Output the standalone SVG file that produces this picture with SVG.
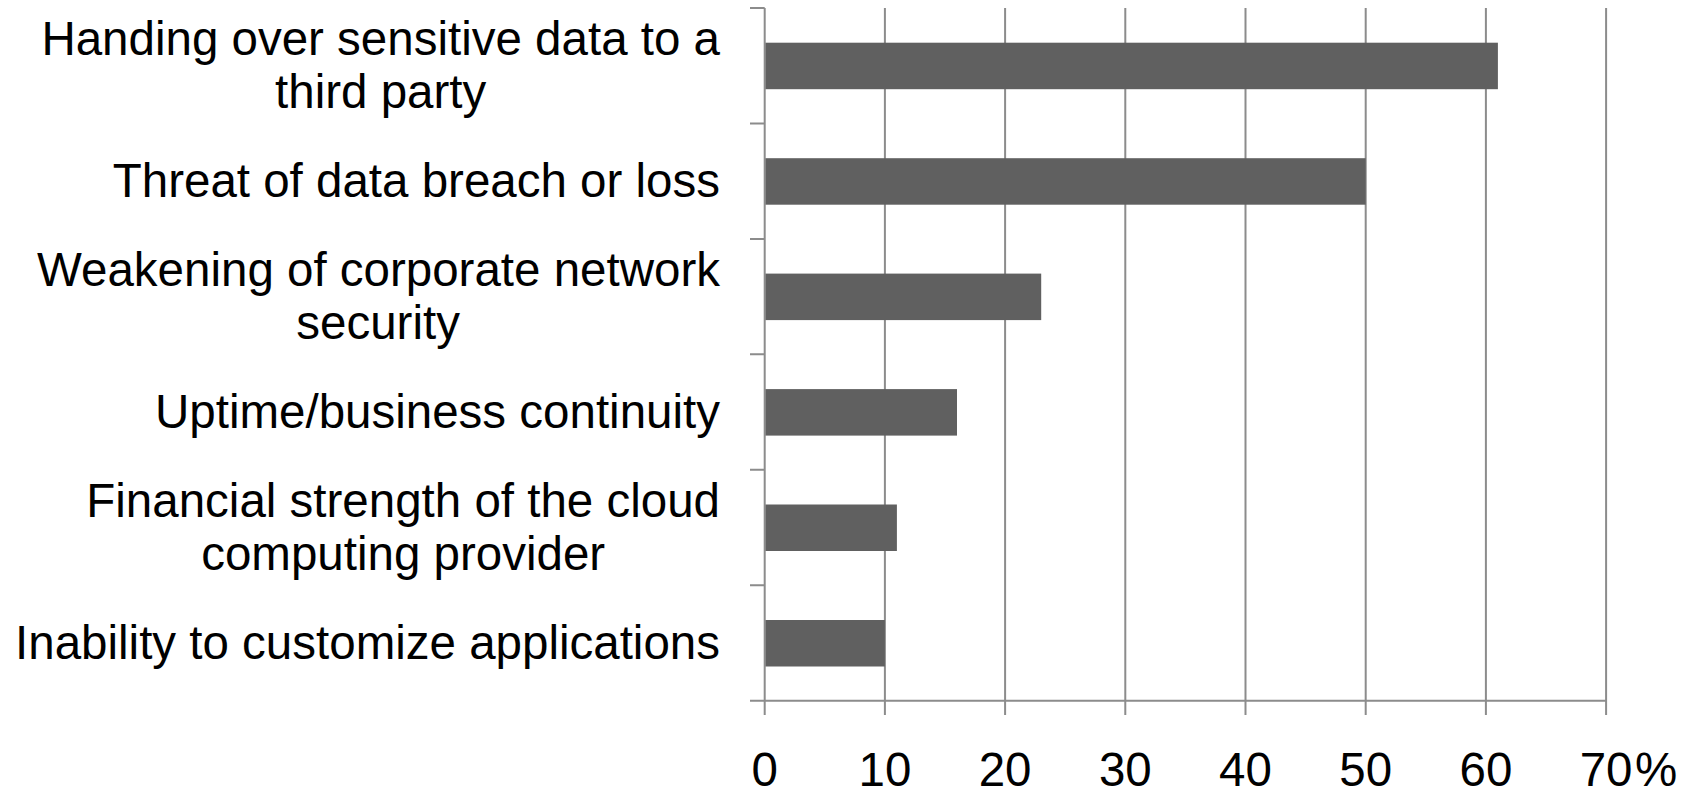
<svg xmlns="http://www.w3.org/2000/svg" width="1698" height="793" viewBox="0 0 1698 793">
<style>
.grid{stroke:#8c8c8c;stroke-width:2;fill:none}
.bar{fill:#606060}
.lbl{font-family:"Liberation Sans",Arial,sans-serif;font-size:47.5px;fill:#000}
.end{text-anchor:end}
.mid{text-anchor:middle}
</style>
<rect width="1698" height="793" fill="#fff"/>
<g id="grid">
<path class="grid" d="M884.9 8V715M1005.1 8V715M1125.3 8V715M1245.5 8V715M1365.7 8V715M1485.9 8V715M1606.1 8V715"/>
</g>
<g id="axes">
<path class="grid" d="M764.7 8V715M750 700.7H1606.1"/>
<path class="grid" d="M750 8H764.7M750 123.45H764.7M750 238.9H764.7M750 354.35H764.7M750 469.8H764.7M750 585.25H764.7"/>
</g>
<g id="bars">
<rect id="bar1" class="bar" x="765.5" y="42.7" width="732.4" height="46.5"/>
<rect id="bar2" class="bar" x="765.5" y="158.2" width="600.2" height="46.5"/>
<rect id="bar3" class="bar" x="765.5" y="273.6" width="275.7" height="46.5"/>
<rect id="bar4" class="bar" x="765.5" y="389.1" width="191.5" height="46.5"/>
<rect id="bar5" class="bar" x="765.5" y="504.5" width="131.4" height="46.5"/>
<rect id="bar6" class="bar" x="765.5" y="620" width="119.4" height="46.5"/>
</g>
<g id="labels">
<text class="lbl end" x="720" y="55">Handing over sensitive data to a</text>
<text class="lbl mid" x="380.7" y="108.3">third party</text>
<text class="lbl end" x="720" y="196.7">Threat of data breach or loss</text>
<text class="lbl end" x="720" y="285.9">Weakening of corporate network</text>
<text class="lbl mid" x="378.1" y="339.2">security</text>
<text class="lbl end" x="720" y="427.6">Uptime/business continuity</text>
<text class="lbl end" x="720" y="516.8">Financial strength of the cloud</text>
<text class="lbl mid" x="403.2" y="570.1">computing provider</text>
<text class="lbl end" x="720" y="658.5">Inability to customize applications</text>
</g>
<g id="ticks">
<text class="lbl mid" x="764.7" y="786">0</text>
<text class="lbl mid" x="884.9" y="786">10</text>
<text class="lbl mid" x="1005.1" y="786">20</text>
<text class="lbl mid" x="1125.3" y="786">30</text>
<text class="lbl mid" x="1245.5" y="786">40</text>
<text class="lbl mid" x="1365.7" y="786">50</text>
<text class="lbl mid" x="1485.9" y="786">60</text>
<text class="lbl mid" x="1606.1" y="786">70</text>
<text class="lbl" x="1635" y="786">%</text>
</g>
</svg>
